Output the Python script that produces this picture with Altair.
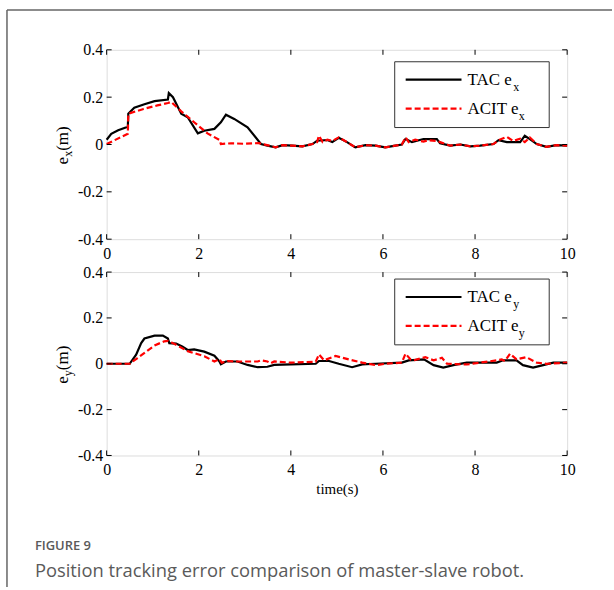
import altair as alt
import pandas as pd

# ---------------- data ----------------
xticks = [0, 2, 4, 6, 8, 10]
yticks = [-0.4, -0.2, 0, 0.2, 0.4]

tac_x_t = [0, 0.1, 0.25, 0.46, 0.47, 0.6, 0.82, 1.04, 1.33, 1.35, 1.44, 1.62, 1.76, 1.98, 2.12,
           2.34, 2.48, 2.59, 2.77, 3.06, 3.35, 3.49, 3.67, 3.82, 4.03, 4.25, 4.47, 4.57, 4.79,
           4.9, 5.04, 5.22, 5.4, 5.62, 5.84, 6.05, 6.27, 6.41, 6.49, 6.63, 6.88, 7.17, 7.24,
           7.46, 7.68, 7.9, 8.11, 8.4, 8.51, 8.69, 8.98, 9.08, 9.19, 9.34, 9.55, 9.77, 10.0]
tac_x_v = [0.02, 0.045, 0.06, 0.075, 0.13, 0.155, 0.17, 0.183, 0.19, 0.217, 0.2, 0.13, 0.115,
           0.047, 0.058, 0.066, 0.094, 0.126, 0.108, 0.073, 0.002, -0.005, -0.012, -0.003,
           -0.005, -0.008, 0.002, 0.016, 0.019, 0.01, 0.028, 0.01, -0.012, -0.003, -0.005,
           -0.012, -0.005, 0.0, 0.024, 0.01, 0.023, 0.023, 0.005, -0.005, 0.0, -0.008, -0.005,
           0.002, 0.018, 0.01, 0.01, 0.037, 0.023, 0.002, -0.01, -0.003, -0.005]

acit_x_t = [0, 0.46, 0.47, 0.8, 1.1, 1.33, 1.4, 1.62, 1.9, 2.19, 2.45, 2.48, 2.7, 3.0, 3.3,
            3.53, 3.67, 3.82, 4.03, 4.25, 4.47, 4.57, 4.61, 4.69, 4.79, 4.9, 5.04, 5.22, 5.4,
            5.62, 5.84, 6.05, 6.27, 6.41, 6.49, 6.56, 6.7, 6.88, 6.98, 7.17, 7.24, 7.46, 7.68,
            7.9, 8.11, 8.4, 8.51, 8.69, 8.83, 8.98, 9.08, 9.19, 9.34, 9.55, 9.77, 10.0]
acit_x_v = [0.002, 0.045, 0.13, 0.15, 0.165, 0.175, 0.18, 0.14, 0.094, 0.047, 0.019, 0.002,
            0.005, 0.003, 0.006, -0.005, -0.012, -0.003, -0.005, -0.008, 0.002, 0.01, 0.037,
            0.01, 0.02, 0.015, 0.03, 0.01, -0.012, -0.003, -0.005, -0.012, -0.005, 0.0, 0.03,
            0.01, 0.02, 0.012, 0.018, 0.015, 0.01, -0.005, 0.0, -0.008, -0.005, 0.002, 0.018,
            0.032, 0.015, 0.024, 0.01, 0.03, 0.002, -0.01, -0.003, -0.005]

tac_y_t = [0, 0.5, 0.64, 0.75, 0.82, 1.04, 1.22, 1.33, 1.36, 1.51, 1.65, 1.76, 1.9, 2.12, 2.34,
           2.45, 2.48, 2.59, 2.84, 3.06, 3.28, 3.49, 3.64, 4.0, 4.54, 4.61, 4.83, 5.04, 5.33,
           5.55, 5.84, 6.41, 6.56, 6.89, 7.1, 7.31, 7.53, 7.82, 8.47, 8.61, 8.9, 9.04, 9.26,
           9.48, 9.7, 10.0]
tac_y_v = [0, 0, 0.04, 0.09, 0.11, 0.123, 0.123, 0.11, 0.09, 0.088, 0.074, 0.06, 0.063, 0.053,
           0.035, 0.01, -0.002, 0.01, 0.01, -0.005, -0.015, -0.013, -0.005, -0.003, 0, 0.012,
           0.012, 0, -0.015, -0.003, 0, 0.005, 0.015, 0.019, -0.006, -0.017, -0.006, 0.005,
           0.005, 0.015, 0.015, -0.006, -0.017, -0.006, 0.005, 0.005]

acit_y_t = [0, 0.5, 0.67, 1.04, 1.25, 1.33, 1.44, 1.76, 2.12, 2.34, 2.45, 2.5, 2.63, 2.84, 3.28,
            3.35, 3.49, 3.56, 3.64, 4.0, 4.54, 4.61, 4.72, 4.97, 5.26, 5.55, 5.84, 6.05, 6.41,
            6.49, 6.6, 6.67, 6.92, 7.1, 7.28, 7.39, 7.82, 8.47, 8.58, 8.65, 8.76, 8.9, 9.11,
            9.34, 9.55, 10.0]
acit_y_v = [0, 0, 0.025, 0.08, 0.098, 0.1, 0.09, 0.055, 0.033, 0.01, 0.02, 0.005, 0.012, 0.01,
            0.01, 0.015, 0.01, 0.002, 0.01, 0.005, 0.009, 0.041, 0.015, 0.034, 0.019, 0.005,
            -0.006, 0, 0.005, 0.044, 0.019, 0.015, 0.029, 0.015, 0.026, 0, -0.003, 0.015,
            0.019, 0.012, 0.044, 0.019, 0.029, 0.005, 0, 0.005]

series_names = ["TAC", "ACIT"]
caption_head = "FIGURE 9"
caption_text = "Position tracking error comparison of master-slave robot."

# ---------------- layout ----------------
W = 462
SERIF = "Liberation Serif"
one = pd.DataFrame({"a": [0]})


def panel(tac_t, tac_v, acit_t, acit_v, H, sub, show_xtitle, leg_top):
    tac = pd.DataFrame({"t": tac_t, "v": tac_v})
    acit = pd.DataFrame({"t": acit_t, "v": acit_v})
    xax = alt.Axis(values=xticks, ticks=False, domain=False, grid=False,
                   labelPadding=6, labelFlush=False,
                   title="time(s)" if show_xtitle else None, titlePadding=4)
    yax = alt.Axis(values=yticks, ticks=False, domain=False, grid=False,
                   labelPadding=4, labelExpr="'' + datum.value", title=None)
    xs = alt.Scale(domain=[0, 10], nice=False)
    ys = alt.Scale(domain=[-0.4, 0.4], nice=False)

    l1 = alt.Chart(tac).mark_line(color="black", strokeWidth=2.2).encode(
        x=alt.X("t:Q", scale=xs, axis=xax), y=alt.Y("v:Q", scale=ys, axis=yax))
    l2 = alt.Chart(acit).mark_line(color="#ff0000", strokeWidth=2.2, strokeDash=[6, 3]).encode(
        x=alt.X("t:Q", scale=xs), y=alt.Y("v:Q", scale=ys))

    xt = pd.DataFrame({"t": xticks})
    yt = pd.DataFrame({"v": yticks})
    tk = []
    tk.append(alt.Chart(xt).mark_rule(color="black", strokeWidth=1).encode(
        x=alt.X("t:Q", scale=xs), y=alt.value(H), y2=alt.value(H - 5)))
    tk.append(alt.Chart(xt).mark_rule(color="black", strokeWidth=1).encode(
        x=alt.X("t:Q", scale=xs), y=alt.value(0), y2=alt.value(5)))
    tk.append(alt.Chart(yt).mark_rule(color="black", strokeWidth=1).encode(
        y=alt.Y("v:Q", scale=ys), x=alt.value(0), x2=alt.value(5)))
    tk.append(alt.Chart(yt).mark_rule(color="black", strokeWidth=1).encode(
        y=alt.Y("v:Q", scale=ys), x=alt.value(W - 5), x2=alt.value(W)))

    # legend
    box = alt.Chart(one).mark_rect(fill="white", stroke="#333", strokeWidth=1).encode(
        x=alt.value(289), x2=alt.value(444), y=alt.value(leg_top), y2=alt.value(leg_top + 66))
    ly1 = leg_top + 18
    ly2 = leg_top + 47
    leg = [box,
           alt.Chart(one).mark_rule(color="black", strokeWidth=2.2).encode(
               x=alt.value(300), x2=alt.value(356), y=alt.value(ly1)),
           alt.Chart(one).mark_rule(color="#ff0000", strokeWidth=2.2, strokeDash=[6, 3]).encode(
               x=alt.value(300), x2=alt.value(356), y=alt.value(ly2))]
    for name, ly in zip(series_names, [ly1, ly2]):
        label = name + " e"
        wid = {"TAC e": 45.8, "ACIT e": 51.5}[label]
        leg.append(alt.Chart(one).mark_text(font=SERIF, fontSize=17, align="left",
                                            baseline="middle", color="black").encode(
            x=alt.value(362), y=alt.value(ly), text=alt.value(label)))
        leg.append(alt.Chart(one).mark_text(font=SERIF, fontSize=12, align="left",
                                            baseline="middle", color="black").encode(
            x=alt.value(362 + wid), y=alt.value(ly + 7), text=alt.value(sub)))

    # rotated y title  e_sub (m)
    cy = H / 2 + 20
    ytitle = [
        alt.Chart(one).mark_text(font=SERIF, fontSize=17, angle=270, align="left",
                                 baseline="alphabetic", color="black").encode(
            x=alt.value(-39), y=alt.value(cy), text=alt.value("e")),
        alt.Chart(one).mark_text(font=SERIF, fontSize=12, angle=270, align="left",
                                 baseline="alphabetic", color="black").encode(
            x=alt.value(-35), y=alt.value(cy - 7.6), text=alt.value(sub)),
        alt.Chart(one).mark_text(font=SERIF, fontSize=17, angle=270, align="left",
                                 baseline="alphabetic", color="black").encode(
            x=alt.value(-39), y=alt.value(cy - 13.6), text=alt.value("(m)")),
    ]
    return alt.layer(l1, l2, *tk, *leg, *ytitle).properties(width=W, height=H)


top = panel(tac_x_t, tac_x_v, acit_x_t, acit_x_v, 190, "x", False, 12)
bottom = panel(tac_y_t, tac_y_v, acit_y_t, acit_y_v, 184, "y", True, 7)

frame = [
    alt.Chart(one).mark_rule(color="#666", strokeWidth=1.5).encode(
        x=alt.value(-100), x2=alt.value(507), y=alt.value(-40)),
    alt.Chart(one).mark_rule(color="#666", strokeWidth=1.5).encode(
        x=alt.value(-100), y=alt.value(-40), y2=alt.value(539)),
]
top = alt.layer(top, *frame)

caption = [
    alt.Chart(one).mark_text(font="Open Sans", fontSize=13, fontWeight=600, align="left",
                             baseline="middle", color="#5a5a5a").encode(
        x=alt.value(-72), y=alt.value(275), text=alt.value(caption_head)),
    alt.Chart(one).mark_text(font="Open Sans", fontSize=18.4, align="left",
                             baseline="middle", color="#5a5a5a").encode(
        x=alt.value(-72), y=alt.value(300), text=alt.value(caption_text)),
]
bottom = alt.layer(bottom, *caption)

chart = alt.vconcat(top, bottom, spacing=33, bounds="flush").properties(
    padding={"left": 5, "top": 7, "right": 0, "bottom": 0}
).configure_view(stroke="black", strokeWidth=1).configure(
    background="white"
).configure_axis(
    labelFont=SERIF, labelFontSize=16, labelColor="black", labelFontWeight="normal",
    titleFont=SERIF, titleFontSize=15, titleColor="black", titleFontWeight="normal"
)

chart.save("out.html", embed_options={"renderer": "svg", "actions": False})
